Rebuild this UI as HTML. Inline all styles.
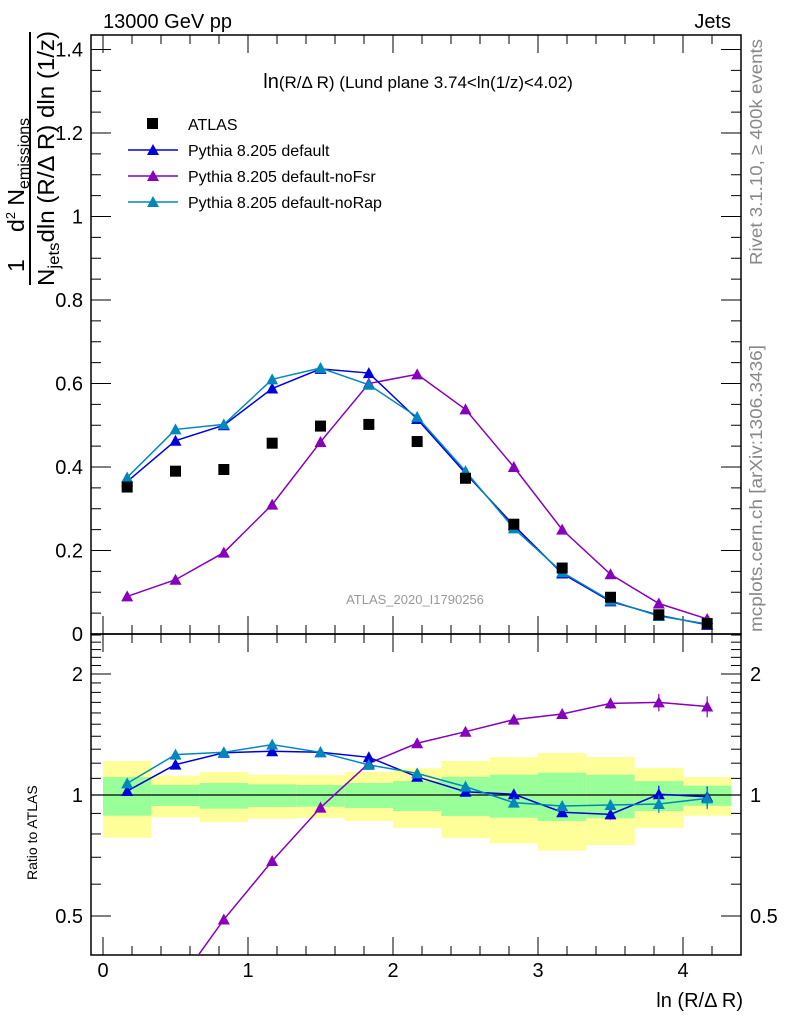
<!DOCTYPE html>
<html><head><meta charset="utf-8"><style>
body{margin:0;background:#fff;}
svg{display:block;font-family:"Liberation Sans",Arial,sans-serif;}
</style></head><body>
<svg id="c" width="786" height="1024" viewBox="0 0 786 1024" xmlns="http://www.w3.org/2000/svg">
<g id="bands"></g>
<g id="axes"></g>
<g id="series"></g>
<text x="103" y="28" font-size="20">13000 GeV pp</text>
<text x="731" y="28" font-size="20" text-anchor="end">Jets</text>
<text x="418" y="88" font-size="17" text-anchor="middle"><tspan font-size="20">ln</tspan>(R/Δ R) (Lund plane 3.74&lt;ln(1/z)&lt;4.02)</text>
<text x="415" y="604" font-size="13" fill="#999" text-anchor="middle">ATLAS_2020_I1790256</text>
<text transform="translate(762,265) rotate(-90)" font-size="17.5" fill="#888" textLength="226" lengthAdjust="spacingAndGlyphs">Rivet 3.1.10, ≥ 400k events</text>
<text transform="translate(762,632) rotate(-90)" font-size="17.5" fill="#888" textLength="287" lengthAdjust="spacingAndGlyphs">mcplots.cern.ch [arXiv:1306.3436]</text>
<g font-size="23">
<text transform="translate(24,272) rotate(-90)">1</text>
<line x1="30" y1="285" x2="30" y2="32" stroke="#000" stroke-width="2"/>
<text transform="translate(24,232) rotate(-90)">d<tspan font-size="13" dy="-9">2</tspan><tspan dy="9"> N</tspan><tspan font-size="16" dy="5">emissions</tspan></text>
<text transform="translate(54,286) rotate(-90)" textLength="255" lengthAdjust="spacingAndGlyphs">N<tspan font-size="16" dy="5">jets</tspan><tspan dy="-5">dln (R/Δ R) dln (1/z)</tspan></text>
</g>
<text transform="translate(37,880) rotate(-90)" font-size="14">Ratio to ATLAS</text>
<text x="743" y="1007" font-size="20" text-anchor="end">ln (R/Δ R)</text>
<g font-size="16">
<rect x="147" y="118" width="11" height="11" fill="#000"/>
<text x="188" y="130">ATLAS</text>
<line x1="128" y1="150" x2="178" y2="150" stroke="#0000dd" stroke-width="1.5"/><polygon points="153,144 147,155 159,155" fill="#0000dd"/>
<text x="188" y="156">Pythia 8.205 default</text>
<line x1="128" y1="176" x2="178" y2="176" stroke="#8800bb" stroke-width="1.5"/><polygon points="153,170 147,181 159,181" fill="#8800bb"/>
<text x="188" y="182">Pythia 8.205 default-noFsr</text>
<line x1="128" y1="202" x2="178" y2="202" stroke="#0088bb" stroke-width="1.5"/><polygon points="153,196 147,207 159,207" fill="#0088bb"/>
<text x="188" y="208">Pythia 8.205 default-noRap</text>
</g>
</svg>
<script>
const binCenters=[0.1667,0.5,0.8333,1.1667,1.5,1.8333,2.1667,2.5,2.8333,3.1667,3.5,3.8333,4.1667];
const binWidth=0.3333;
const atlas=[0.352,0.39,0.394,0.457,0.498,0.502,0.461,0.373,0.263,0.158,0.088,0.046,0.025];
const pyDefault=[0.365,0.463,0.5,0.588,0.635,0.625,0.515,0.385,0.26,0.145,0.078,0.045,0.022];
const pyNoFsr=[0.09,0.13,0.195,0.31,0.46,0.6,0.622,0.538,0.4,0.25,0.143,0.073,0.036];
const pyNoRap=[0.375,0.49,0.502,0.61,0.637,0.597,0.52,0.39,0.253,0.148,0.08,0.043,0.024];
const ratioDefault=[1.023,1.19,1.274,1.285,1.277,1.241,1.11,1.019,1.004,0.906,0.895,1.004,0.99];
const ratioNoFsr=[0.256,0.333,0.49,0.685,0.93,1.199,1.345,1.437,1.54,1.59,1.69,1.70,1.66];
const ratioNoRap=[1.069,1.26,1.277,1.334,1.277,1.188,1.132,1.049,0.957,0.939,0.944,0.95,0.981];
const ratioErr=[0,0,0,0,0,0,0,0,0,0.02,0.03,0.05,0.06];
const yellowHi=[1.215,1.117,1.141,1.123,1.121,1.141,1.165,1.215,1.241,1.272,1.243,1.167,1.108];
const yellowLo=[0.783,0.880,0.857,0.873,0.877,0.862,0.829,0.782,0.758,0.727,0.751,0.829,0.888];
const greenHi=[1.108,1.059,1.071,1.063,1.059,1.071,1.083,1.110,1.123,1.136,1.123,1.083,1.055];
const greenLo=[0.888,0.939,0.925,0.934,0.935,0.928,0.912,0.887,0.878,0.862,0.875,0.912,0.940];
const xTicks=[0,1,2,3,4];
const yTicks=[0,0.2,0.4,0.6,0.8,1,1.2,1.4];
const yTickLabels=["0","0.2","0.4","0.6","0.8","1","1.2","1.4"];
const rTicks=[0.5,1,2];
const rTickLabels=["0.5","1","2"];

const NS="http://www.w3.org/2000/svg";
const L=91,R=741,MT=35,MB=634,RB=955;
const X=v=>103+v*145;
const Y=v=>634-v*417.5;
const RY=v=>795-402*Math.log10(v);
function mk(parent,tag,attrs){const e=document.createElementNS(NS,tag);for(const k in attrs)e.setAttribute(k,attrs[k]);document.getElementById(parent).appendChild(e);return e;}

const defs=document.createElementNS(NS,'defs');
defs.innerHTML='<clipPath id="cm"><rect x="91" y="35" width="650" height="599"/></clipPath><clipPath id="cr"><rect x="91" y="634" width="650" height="321"/></clipPath>';
document.getElementById('c').prepend(defs);

for(let i=0;i<binCenters.length;i++){
  const x0=X(binCenters[i]-binWidth/2),x1=X(binCenters[i]+binWidth/2);
  let e=mk('bands','rect',{x:x0,y:RY(yellowHi[i]),width:x1-x0,height:RY(yellowLo[i])-RY(yellowHi[i]),fill:'#ffff99'});
  
  
  e=mk('bands','rect',{x:x0,y:RY(greenHi[i]),width:x1-x0,height:RY(greenLo[i])-RY(greenHi[i]),fill:'#99ff99'});
  
  
}
let f=mk('axes','rect',{x:L,y:MT,width:R-L,height:MB-MT,fill:'none',stroke:'#000','stroke-width':1.5});


f=mk('axes','rect',{x:L,y:MB,width:R-L,height:RB-MB,fill:'none',stroke:'#000','stroke-width':1.5});


mk('axes','line',{x1:L,x2:R,y1:RY(1),y2:RY(1),stroke:'#000','stroke-width':1.2});
for(let v=0;v<=4.4;v+=0.2){const m=Math.abs(v-Math.round(v))<1e-6;const len=m?18:9;const x=X(v);if(x>R)break;
  [[MT,1],[MB,-1],[MB,1],[RB,-1]].forEach(([y,d])=>mk('axes','line',{x1:x,x2:x,y1:y,y2:y+d*len,stroke:'#000'}));}
xTicks.forEach(v=>{const t=mk('axes','text',{x:X(v),y:977,'font-size':20,'text-anchor':'middle'});t.textContent=v;
  
  });
for(let v=0;v<=1.43;v+=0.05){const m=Math.abs(v*5-Math.round(v*5))<1e-6;const len=m?20:10;const y=Y(v);
  mk('axes','line',{x1:L,x2:L+len,y1:y,y2:y,stroke:'#000'});mk('axes','line',{x1:R,x2:R-len,y1:y,y2:y,stroke:'#000'});}
yTicks.forEach((v,i)=>{const t=mk('axes','text',{x:83,y:Y(v)+7,'font-size':20,'text-anchor':'end'});t.textContent=yTickLabels[i];
  
  });
for(let k=4;k<=25;k++){const v=k/10;const y=RY(v);if(y<MB+1||y>RB-1)continue;const m=rTicks.includes(v);const len=m?20:10;
  mk('axes','line',{x1:L,x2:L+len,y1:y,y2:y,stroke:'#000'});mk('axes','line',{x1:R,x2:R-len,y1:y,y2:y,stroke:'#000'});}
rTicks.forEach((v,i)=>{let t=mk('axes','text',{x:83,y:RY(v)+7,'font-size':20,'text-anchor':'end'});t.textContent=rTickLabels[i];
  
  
  t=mk('axes','text',{x:750,y:RY(v)+7,'font-size':20});t.textContent=rTickLabels[i];
  
  });

function tri(g,x,y,c,clip,name){const p=mk(g,'polygon',{points:`${x},${y-6} ${x-6},${y+5} ${x+6},${y+5}`,fill:c,'clip-path':clip});
  
  }
function line(vals,fy,c,clip,name,err){const pts=binCenters.map((b,i)=>X(b)+','+fy(vals[i])).join(' ');
  const pl=mk('series','polyline',{points:pts,fill:'none',stroke:c,'stroke-width':1.5,'clip-path':clip});
  
  
  if(err)binCenters.forEach((b,i)=>{if(err[i]>0){const e=mk('series','line',{x1:X(b),x2:X(b),y1:fy(vals[i]*(1+err[i])),y2:fy(vals[i]*(1-err[i])),stroke:c,'stroke-width':1.2});
    
    }});
  binCenters.forEach((b,i)=>tri('series',X(b),fy(vals[i]),c,clip,name+'-point'));}
line(pyNoFsr,Y,'#8800bb','url(#cm)','nofsr');
line(pyDefault,Y,'#0000dd','url(#cm)','default');
line(pyNoRap,Y,'#0088bb','url(#cm)','norap');
binCenters.forEach((b,i)=>{const r=mk('series','rect',{x:X(b)-5.5,y:Y(atlas[i])-5.5,width:11,height:11,fill:'#000'});
  
  });
line(ratioNoFsr,RY,'#8800bb','url(#cr)','ratio-nofsr',ratioErr);
line(ratioDefault,RY,'#0000dd','url(#cr)','ratio-default',ratioErr);
line(ratioNoRap,RY,'#0088bb','url(#cr)','ratio-norap',ratioErr);
</script>
</body></html>
